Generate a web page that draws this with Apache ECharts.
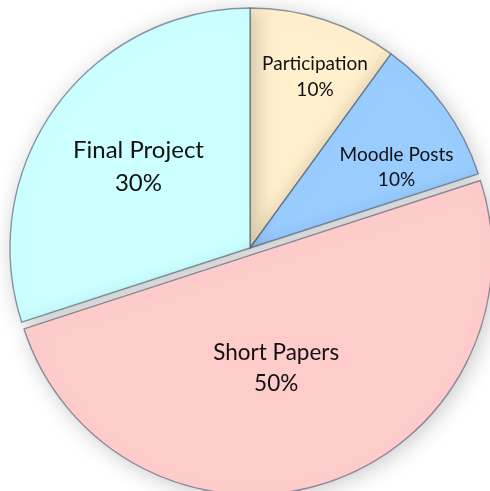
<!DOCTYPE html>
<html>
<head>
<meta charset="utf-8">
<script src="https://cdn.jsdelivr.net/npm/echarts@6/dist/echarts.min.js"></script>
<style>
  html, body { margin: 0; padding: 0; background: #fff; }
  #chart { width: 490px; height: 491px; }
</style>
</head>
<body>
<div id="chart"></div>
<script>
  'use strict'

  // grade breakdown, clockwise from 12 o'clock
  var categories = ['Participation', 'Moodle Posts', 'Short Papers', 'Final Project'];
  var values = [10, 10, 50, 30];
  var colors = ['#FFEFCC', '#99CCFF', '#FFCCCC', '#CCFFFF'];

  var fontSizes = [19, 19, 22.5, 24];
  var lineHeights = [26, 25, 31, 33];
  // nudges from the default inside label spot
  var labelShift = [[27, -54], [47, -8], [-14, -3], [-12, -9]];

  var pieData = categories.map(function (name, i) {
    return {
      name: name,
      value: values[i],
      selected: i === 2,
      itemStyle: { color: colors[i] },
      label: { fontSize: fontSizes[i], lineHeight: lineHeights[i] }
    };
  });

  var chart = echarts.init(document.getElementById('chart'));
  var option = {
    animation: false,
    series: [{
      type: 'pie',
      center: [250, 248],
      radius: 240,
      startAngle: 90,
      clockwise: true,
      selectedMode: 'single',
      selectedOffset: 7,
      percentPrecision: 0,
      silent: true,
      data: pieData,
      itemStyle: {
        borderColor: 'rgba(70, 85, 110, 0.6)',
        borderWidth: 1.4,
        shadowBlur: 22,
        shadowColor: 'rgba(0, 0, 0, 0.22)',
        shadowOffsetX: 3,
        shadowOffsetY: 3
      },
      label: {
        show: true,
        position: 'inside',
        formatter: '{b}\n{d}%',
        color: '#111',
        fontFamily: 'Lato',
        align: 'center'
      },
      labelLine: { show: false },
      labelLayout: function (params) {
        var s = labelShift[params.dataIndex];
        return { dx: s[0], dy: s[1] };
      }
    }]
  };
  chart.setOption(option);
</script>
</body>
</html>
